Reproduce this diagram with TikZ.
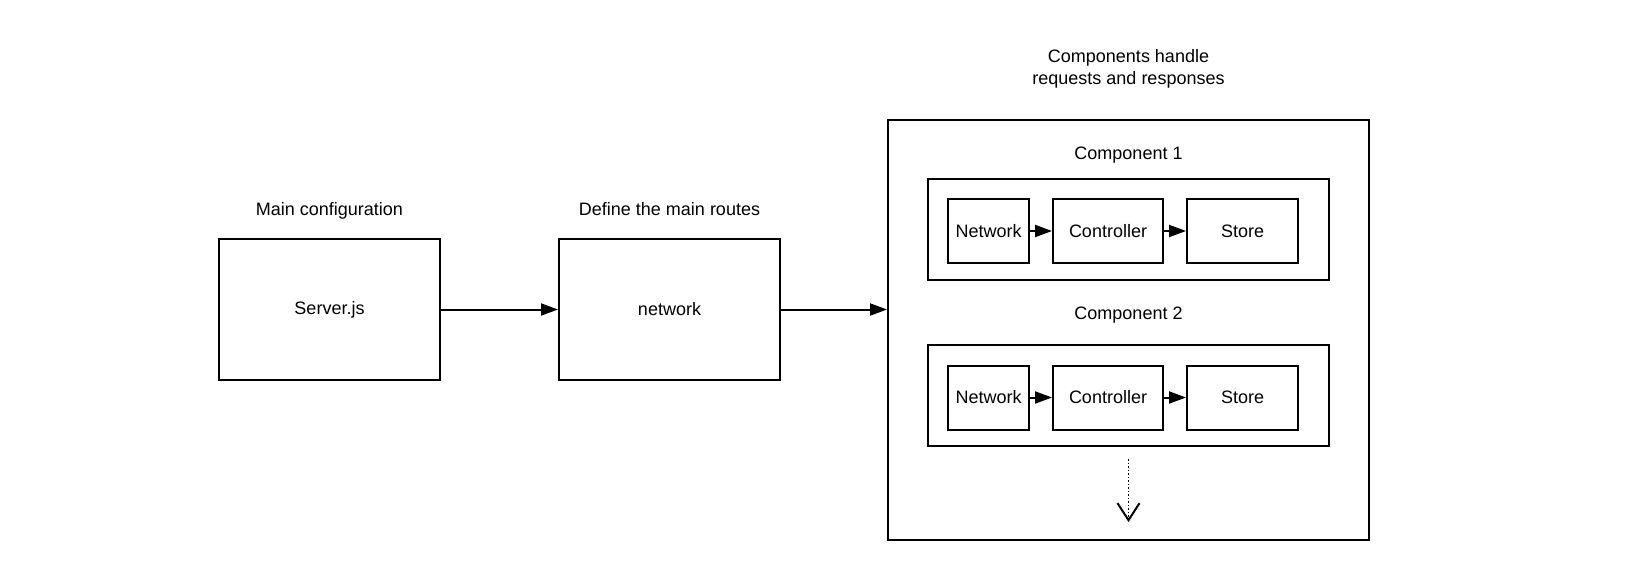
\documentclass[tikz,border=0pt]{standalone}
\usepackage{fontspec}
\setmainfont{Liberation Sans}
\usetikzlibrary{arrows.meta,positioning}

\begin{document}
\begin{tikzpicture}[x=1pt,y=-1pt,font=\fontsize{18}{22}\selectfont,node distance=22pt,
box/.style={draw,line width=2pt,inner sep=0pt,align=center},
part/.style={box,minimum height=64pt},
lbl/.style={text height=13pt,text depth=4pt},
arr/.style={-{Triangle[length=17pt,width=12pt]},line width=2pt}]
\useasboundingbox (0,0) rectangle (1645,580);
% left part
\node[box,minimum width=221pt,minimum height=141pt](srv)at(329.5,309.5){Server.js};
\node[box,minimum width=221pt,minimum height=141pt](net)at(669.5,309.5){network};
\node[lbl](srvlbl)at(329.5,211){Main configuration};
\node[lbl](netlbl)at(669.5,211){Define the main routes};
% components
\node[box,minimum width=481pt,minimum height=420pt](comps)at(1128.5,330){};
\node[align=center](compslbl)at(1128.5,69){Components handle\\requests and responses};
\node[box,minimum width=401pt,minimum height=101pt](c1)at(1128.5,229.5){};
\node[lbl](c1lbl)at(1128.5,155){Component 1};
\node[part,minimum width=81pt](n1)at(988.5,231){Network};
\node[part,minimum width=110pt,right=of n1](k1){Controller};
\node[part,minimum width=111pt,right=of k1](s1){Store};
\node[box,minimum width=401pt,minimum height=101pt](c2)at(1128.5,395.5){};
\node[lbl](c2lbl)at(1128.5,315){Component 2};
\node[part,minimum width=81pt](n2)at(988.5,397.5){Network};
\node[part,minimum width=110pt,right=of n2](k2){Controller};
\node[part,minimum width=111pt,right=of k2](s2){Store};
\coordinate(more)at(1128.5,459);
\coordinate(moreend)at(1128.5,522);
% arrows
\draw[arr](srv)--(net);
\draw[arr](net.east)--(net.east-|comps.west);
\draw[arr](n1)--(k1);\draw[arr](k1)--(s1);
\draw[arr](n2)--(k2);\draw[arr](k2)--(s2);
\draw[dotted,line width=1.5pt,-{Straight Barb[length=17pt,width=22pt,line width=2pt]}](more)--(moreend);
\end{tikzpicture}
\end{document}
